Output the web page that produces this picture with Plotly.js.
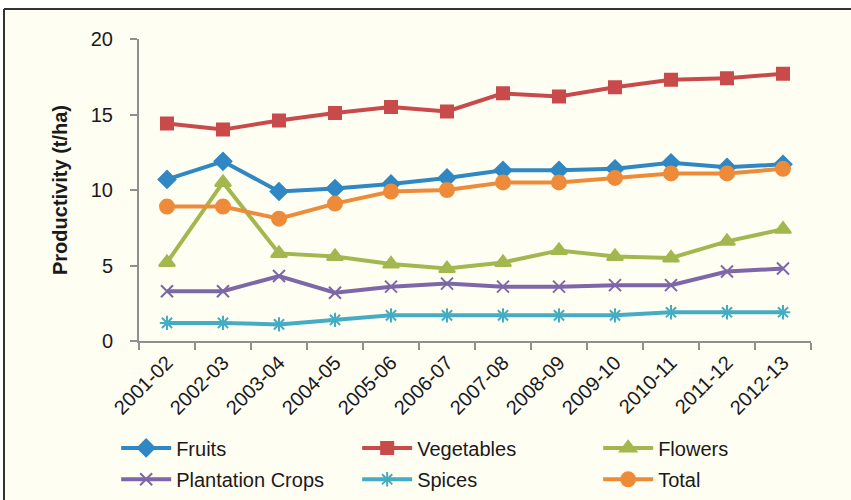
<!DOCTYPE html>
<html>
<head>
<meta charset="utf-8">
<script src="https://cdn.plot.ly/plotly-3.0.1.min.js"></script>
<style>
  html, body { margin: 0; padding: 0; background: #ffffff; }
  #chart { width: 851px; height: 500px; }
</style>
</head>
<body>
<div id="chart"></div>
<script>
const years = ["2001-02","2002-03","2003-04","2004-05","2005-06","2006-07","2007-08","2008-09","2009-10","2010-11","2011-12","2012-13"];
const fruits = [10.7, 11.9, 9.9, 10.1, 10.4, 10.8, 11.3, 11.3, 11.4, 11.8, 11.5, 11.7];
const vegetables = [14.4, 14.0, 14.6, 15.1, 15.5, 15.2, 16.4, 16.2, 16.8, 17.3, 17.4, 17.7];
const flowers = [5.2, 10.5, 5.8, 5.6, 5.1, 4.8, 5.2, 6.0, 5.6, 5.5, 6.6, 7.4];
const plantation = [3.3, 3.3, 4.3, 3.2, 3.6, 3.8, 3.6, 3.6, 3.7, 3.7, 4.6, 4.8];
const spices = [1.2, 1.2, 1.1, 1.4, 1.7, 1.7, 1.7, 1.7, 1.7, 1.9, 1.9, 1.9];
const total = [8.9, 8.9, 8.1, 9.1, 9.9, 10.0, 10.5, 10.5, 10.8, 11.1, 11.1, 11.4];
const seriesNames = ["Fruits","Vegetables","Flowers","Plantation Crops","Spices","Total"];

const specs = [
  {y: fruits, color: "#2F87C3", symbol: "diamond", size: 13, legend: "legend"},
  {y: vegetables, color: "#C94A4A", symbol: "square", size: 12, legend: "legend"},
  {y: flowers, color: "#A2B84F", symbol: "triangle-up", size: 14, legend: "legend"},
  {y: plantation, color: "#7D67A9", symbol: "x-thin-open", size: 12, legend: "legend2"},
  {y: spices, color: "#45ADC3", symbol: "asterisk-open", size: 12, legend: "legend2"},
  {y: total, color: "#EE8B3A", symbol: "circle", size: 14, legend: "legend2"}
];

const traces = specs.map((s, i) => ({
  type: "scatter",
  mode: "lines+markers",
  name: seriesNames[i],
  legend: s.legend,
  x: years,
  y: s.y,
  line: {color: s.color, width: 4},
  marker: {color: s.color, symbol: s.symbol, size: s.size, line: {color: s.color, width: 2}}
}));

const F = "Liberation Sans, Arial, sans-serif";
const cream = "#FFFEF3";
function legendRow(ypaper) {
  return {
    orientation: "h",
    x: -0.034, xanchor: "left",
    y: ypaper, yanchor: "top",
    bgcolor: "rgba(0,0,0,0)",
    font: {family: F, size: 20, color: "#1a1a1a"},
    itemwidth: 50,
    entrywidth: 176,
    entrywidthmode: "pixels",
    tracegroupgap: 0
  };
}
const layout = {
  width: 851, height: 500,
  margin: {l: 139, r: 40, t: 39, b: 159, autoexpand: false},
  paper_bgcolor: "#ffffff",
  plot_bgcolor: cream,
  font: {family: F, color: "#1a1a1a", size: 20},
  showlegend: true,
  xaxis: {
    type: "category",
    range: [-0.5, 11.5],
    automargin: false,
    showline: true, linecolor: "#8f8f8f", linewidth: 2,
    ticks: "outside", ticklen: 7, tickcolor: "#8f8f8f", tickwidth: 2,
    tickson: "boundaries",
    tickangle: -45,
    tickfont: {family: F, size: 20, color: "#1a1a1a"},
    showgrid: false, zeroline: false, fixedrange: true
  },
  yaxis: {
    range: [0, 20],
    automargin: false,
    tickvals: [0, 5, 10, 15, 20],
    showline: true, linecolor: "#8f8f8f", linewidth: 2,
    ticks: "outside", ticklen: 7, tickcolor: "#8f8f8f", tickwidth: 2,
    ticklabelstandoff: 13,
    tickfont: {family: F, size: 20, color: "#1a1a1a"},
    showgrid: false, zeroline: false,
    title: {text: "<b>Productivity (t/ha)</b>", font: {family: F, size: 20, color: "#1a1a1a"}, standoff: 18}
  },
  legend: legendRow(-0.2894),
  legend2: legendRow(-0.3934),
  shapes: [
    {type: "rect", xref: "paper", yref: "paper", x0: -0.2009, x1: 1.07, y0: -0.55, y1: 1.0993,
     fillcolor: cream, line: {width: 0}, layer: "below"},
    {type: "line", xref: "paper", yref: "paper", x0: -0.2009, x1: 1.07, y0: 1.0993, y1: 1.0993,
     line: {color: "#333333", width: 2}},
    {type: "line", xref: "paper", yref: "paper", x0: -0.2009, x1: -0.2009, y0: -0.55, y1: 1.0993,
     line: {color: "#333333", width: 2}}
  ]
};

Plotly.newPlot("chart", traces, layout, {displayModeBar: false, staticPlot: true});
</script>
</body>
</html>
